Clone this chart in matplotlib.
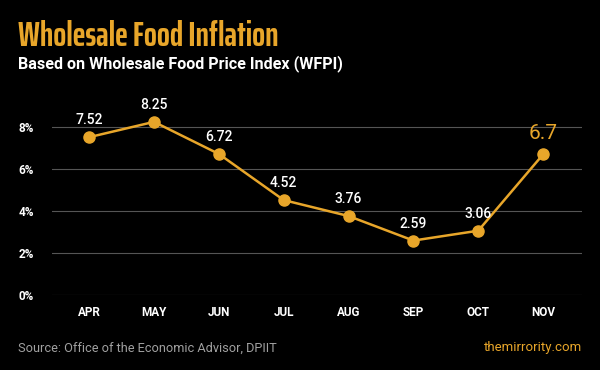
import matplotlib.pyplot as plt

months = ['APR', 'MAY', 'JUN', 'JUL', 'AUG', 'SEP', 'OCT', 'NOV']
inflation = [7.52, 8.25, 6.72, 4.52, 3.76, 2.59, 3.06, 6.7]
labels = ['7.52', '8.25', '6.72', '4.52', '3.76', '2.59', '3.06', '6.7']
yticks = [0, 2, 4, 6, 8]

gold = '#E8A62A'

fig = plt.figure(figsize=(6, 3.7), dpi=100, facecolor='black')
ax = fig.add_axes([0.087, 0.203, 0.883, 0.513], facecolor='black')

x = list(range(len(months)))
ax.plot(x, inflation, color=gold, lw=1.8, marker='o', ms=8, zorder=3)

for i, (v, lab) in enumerate(zip(inflation, labels)):
    if i == len(labels) - 1:
        ax.annotate(lab, (i, v), xytext=(0, 8), textcoords='offset points',
                    ha='center', va='bottom', color=gold, fontsize=15,
                    family='Roboto')
    else:
        ax.annotate(lab, (i, v), xytext=(0, 7), textcoords='offset points',
                    ha='center', va='bottom', color='white', fontsize=10,
                    family='Roboto', fontweight='medium')

ax.set_xlim(-0.57, 7.6)
ax.set_ylim(0, 9.05)
ax.set_yticks(yticks)
ax.set_yticklabels([f'{t}%' for t in yticks])
ax.set_xticks(x)
ax.set_xticklabels(months)
ax.grid(axis='y', color='#555555', lw=0.8)
ax.set_axisbelow(True)
for s in ax.spines.values():
    s.set_visible(False)
ax.tick_params(length=0, colors='white', labelsize=8.5)
ax.tick_params(axis='y', pad=13)
ax.tick_params(axis='x', pad=8)
for t in ax.get_xticklabels() + ax.get_yticklabels():
    t.set_family('Roboto')
    t.set_fontweight('bold')

fig.text(0.03, 0.876, 'Wholesale Food Inflation', color=gold, fontsize=24.5,
         fontweight='bold', family=['Saira ExtraCondensed', 'DejaVu Sans'])
fig.text(0.03, 0.815, 'Based on Wholesale Food Price Index (WFPI)',
         color='white', fontsize=11.6, fontweight='bold', family='Roboto')
fig.text(0.03, 0.05, 'Source: Office of the Economic Advisor, DPIIT',
         color='#A0A0A0', fontsize=9.2, family='Roboto')
fig.text(0.97, 0.05, 'themirrority.com', color=gold, fontsize=9.5,
         family='Roboto', ha='right')

fig.savefig('out.png', dpi=100, facecolor='black')
